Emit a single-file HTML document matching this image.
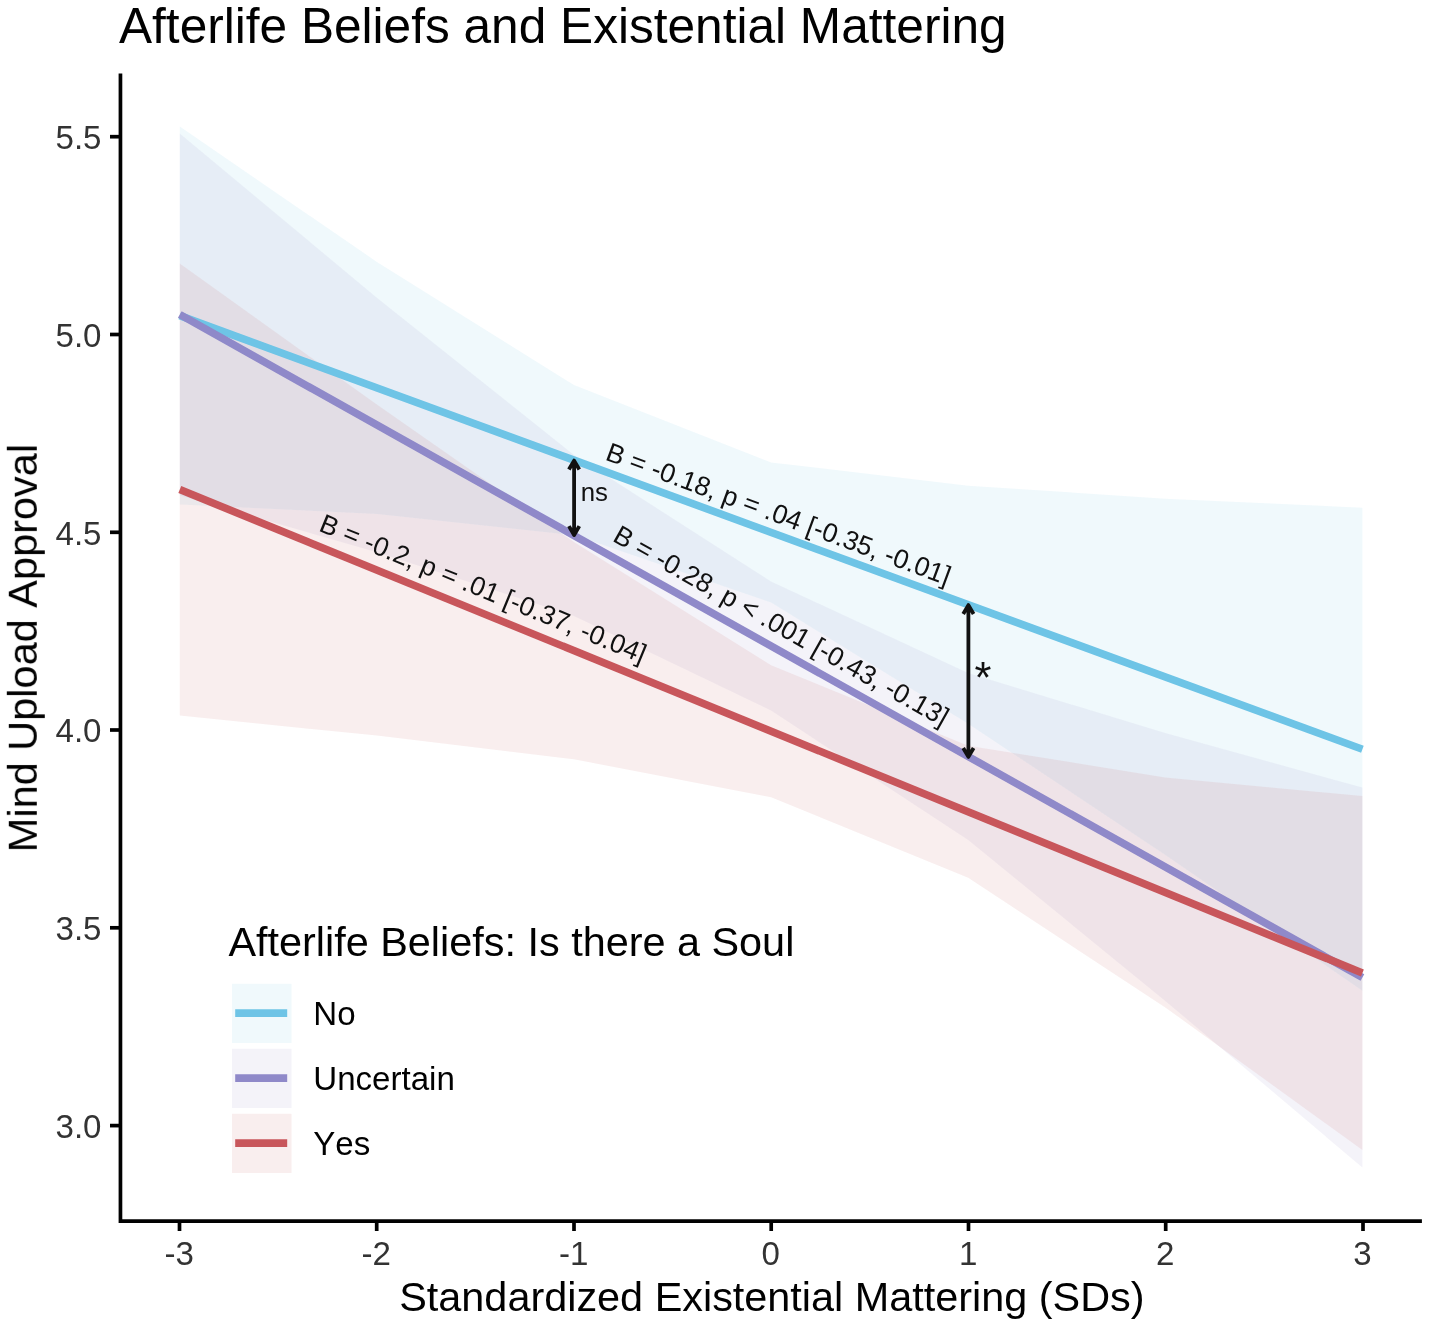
<!DOCTYPE html>
<html><head><meta charset="utf-8"><title>Afterlife Beliefs and Existential Mattering</title>
<style>
html,body{margin:0;padding:0;background:#fff;}
body{width:1429px;height:1327px;overflow:hidden;}
svg{display:block;font-family:"Liberation Sans",sans-serif;font-kerning:none;}
</style></head><body>
<svg width="1429" height="1327" viewBox="0 0 1429 1327">
<rect width="1429" height="1327" fill="#ffffff"/>
<g opacity="0.999">
<polygon points="179.8,126.6 376.9,261.9 574.0,385.1 771.1,462.4 968.2,485.7 1165.3,498.7 1362.4,507.7 1362.4,990.7 1165.3,855.1 968.2,723.7 771.1,602.4 574.0,535.1 376.9,513.9 179.8,504.6" fill="#6EC4E6" fill-opacity="0.1"/>
<polygon points="179.8,133.5 376.9,297.7 574.0,455.0 771.1,581.5 968.2,673.0 1165.3,733.1 1362.4,787.5 1362.4,1167.5 1165.3,1000.9 968.2,840.0 771.1,710.5 574.0,616.0 376.9,552.3 179.8,495.5" fill="#8F89C9" fill-opacity="0.1"/>
<polygon points="179.8,263.5 376.9,404.6 574.0,542.1 771.1,665.2 968.2,745.8 1165.3,777.4 1362.4,796.0 1362.4,1150.0 1165.3,1007.4 968.2,877.8 771.1,797.2 574.0,759.3 376.9,735.6 179.8,715.5" fill="#C8565B" fill-opacity="0.1"/>
<line x1="179.8" y1="315.6" x2="1362.4" y2="749.2" stroke="#6EC4E6" stroke-width="7.6"/>
<line x1="179.8" y1="314.5" x2="1362.4" y2="977.5" stroke="#8F89C9" stroke-width="7.6"/>
<line x1="179.8" y1="489.5" x2="1362.4" y2="973.0" stroke="#C8565B" stroke-width="7.6"/>
<path d="M120.45 73.4 V1221.1 H1421.9" fill="none" stroke="#000" stroke-width="3.7" stroke-linejoin="miter"/>
<line x1="110" y1="136.7" x2="119.5" y2="136.7" stroke="#000" stroke-width="3.7"/>
<text x="101.5" y="148.9" text-anchor="end" font-size="33.1" fill="#333333">5.5</text>
<line x1="110" y1="334.5" x2="119.5" y2="334.5" stroke="#000" stroke-width="3.7"/>
<text x="101.5" y="346.7" text-anchor="end" font-size="33.1" fill="#333333">5.0</text>
<line x1="110" y1="532.3" x2="119.5" y2="532.3" stroke="#000" stroke-width="3.7"/>
<text x="101.5" y="544.5" text-anchor="end" font-size="33.1" fill="#333333">4.5</text>
<line x1="110" y1="730.0" x2="119.5" y2="730.0" stroke="#000" stroke-width="3.7"/>
<text x="101.5" y="742.2" text-anchor="end" font-size="33.1" fill="#333333">4.0</text>
<line x1="110" y1="927.8" x2="119.5" y2="927.8" stroke="#000" stroke-width="3.7"/>
<text x="101.5" y="940.0" text-anchor="end" font-size="33.1" fill="#333333">3.5</text>
<line x1="110" y1="1125.6" x2="119.5" y2="1125.6" stroke="#000" stroke-width="3.7"/>
<text x="101.5" y="1137.8" text-anchor="end" font-size="33.1" fill="#333333">3.0</text>
<line x1="179.5" y1="1222" x2="179.5" y2="1231" stroke="#000" stroke-width="3.7"/>
<text x="179.1" y="1264.5" text-anchor="middle" font-size="33.1" fill="#333333">-3</text>
<line x1="376.7" y1="1222" x2="376.7" y2="1231" stroke="#000" stroke-width="3.7"/>
<text x="376.3" y="1264.5" text-anchor="middle" font-size="33.1" fill="#333333">-2</text>
<line x1="574.0" y1="1222" x2="574.0" y2="1231" stroke="#000" stroke-width="3.7"/>
<text x="573.6" y="1264.5" text-anchor="middle" font-size="33.1" fill="#333333">-1</text>
<line x1="771.2" y1="1222" x2="771.2" y2="1231" stroke="#000" stroke-width="3.7"/>
<text x="770.8" y="1264.5" text-anchor="middle" font-size="33.1" fill="#333333">0</text>
<line x1="968.5" y1="1222" x2="968.5" y2="1231" stroke="#000" stroke-width="3.7"/>
<text x="968.1" y="1264.5" text-anchor="middle" font-size="33.1" fill="#333333">1</text>
<line x1="1165.7" y1="1222" x2="1165.7" y2="1231" stroke="#000" stroke-width="3.7"/>
<text x="1165.3" y="1264.5" text-anchor="middle" font-size="33.1" fill="#333333">2</text>
<line x1="1363.0" y1="1222" x2="1363.0" y2="1231" stroke="#000" stroke-width="3.7"/>
<text x="1362.5" y="1264.5" text-anchor="middle" font-size="33.1" fill="#333333">3</text>
<text x="119" y="42.5" font-size="49.6" fill="#000">Afterlife Beliefs and Existential Mattering</text>
<text x="771.9" y="1310.6" text-anchor="middle" font-size="41.4" fill="#000">Standardized Existential Mattering (SDs)</text>
<text transform="translate(36.8,648.1) rotate(-90)" text-anchor="middle" font-size="41.5" fill="#000">Mind Upload Approval</text>
<text x="228.4" y="956.4" font-size="41.4" fill="#000">Afterlife Beliefs: Is there a Soul</text>
<rect x="232" y="983.8" width="59.5" height="59.2" fill="#6EC4E6" fill-opacity="0.1"/>
<line x1="235.2" y1="1013.1" x2="287.2" y2="1013.1" stroke="#6EC4E6" stroke-width="7.6"/>
<text x="313.3" y="1025.3" font-size="33.1" fill="#000">No</text>
<rect x="232" y="1048.8" width="59.5" height="59.2" fill="#8F89C9" fill-opacity="0.1"/>
<line x1="235.2" y1="1078.1" x2="287.2" y2="1078.1" stroke="#8F89C9" stroke-width="7.6"/>
<text x="313.3" y="1090.3" font-size="33.1" fill="#000">Uncertain</text>
<rect x="232" y="1113.8" width="59.5" height="59.2" fill="#C8565B" fill-opacity="0.1"/>
<line x1="235.2" y1="1143.1" x2="287.2" y2="1143.1" stroke="#C8565B" stroke-width="7.6"/>
<text x="313.3" y="1155.3" font-size="33.1" fill="#000">Yes</text>
<path d="M568.9 469.5 L574.1 460.6 L579.3000000000001 469.5 M574.1 460.6 V535.0 M568.9 526.1 L574.1 535.0 L579.3000000000001 526.1" fill="none" stroke="#111" stroke-width="3.8" stroke-linejoin="round" stroke-linecap="butt"/>
<path d="M963.1999999999999 614.0 L968.4 605.1 L973.6 614.0 M968.4 605.1 V756.9 M963.1999999999999 748.0 L968.4 756.9 L973.6 748.0" fill="none" stroke="#111" stroke-width="3.8" stroke-linejoin="round" stroke-linecap="butt"/>
<text x="580.7" y="501.1" font-size="25.8" fill="#111">ns</text>
<text x="974.6" y="692.7" font-size="43.5" fill="#111">*</text>
<text transform="translate(604.2,459.4) rotate(20.2)" font-size="26.7" fill="#111">B = -0.18, p = .04 [-0.35, -0.01]</text>
<text transform="translate(611.4,540.5) rotate(29.4)" font-size="26.7" fill="#111">B = -0.28, p &lt; .001 [-0.43, -0.13]</text>
<text transform="translate(317.8,530.5) rotate(22.3)" font-size="26.7" fill="#111">B = -0.2, p = .01 [-0.37, -0.04]</text>
</g>
</svg>
</body></html>
